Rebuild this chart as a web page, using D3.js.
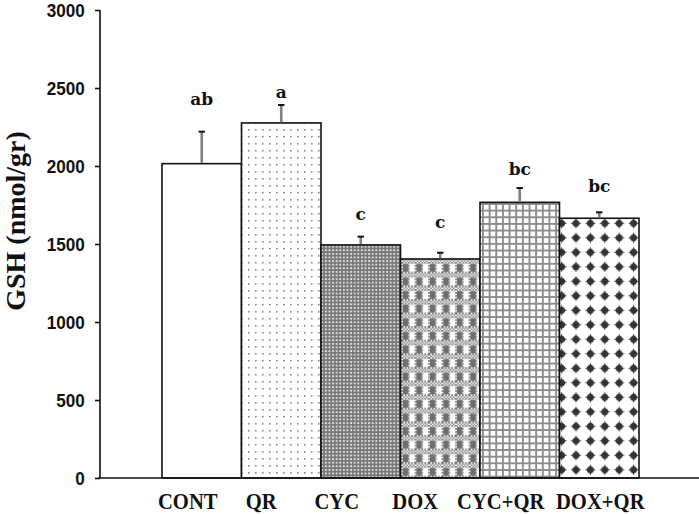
<!DOCTYPE html>
<html>
<head>
<meta charset="utf-8">
<script src="https://cdn.jsdelivr.net/npm/d3@7/dist/d3.min.js"></script>
<style>
  html, body { margin: 0; padding: 0; background: #fff; }
  svg { display: block; }
</style>
</head>
<body>
<svg id="chart" width="699" height="515"></svg>
<script>
// ---- data ----
const categories = ["CONT", "QR", "CYC", "DOX", "CYC+QR", "DOX+QR"];
const gshMean = [2015, 2276, 1494, 1404, 1767, 1665];
const gshError = [205, 115, 53, 40, 92, 38];
const groupLetters = ["ab", "a", "c", "c", "bc", "bc"];
const letterLevel = [2391, 2436, 1654, 1603, 1942, 1833]; // baseline of letters, in GSH units
const yTicks = [0, 500, 1000, 1500, 2000, 2500, 3000];
const yLabel = "GSH (nmol/gr)";

// ---- layout ----
const W = 699, H = 515;
const axisX = 100, plotBottom = 478, plotTop = 10;
const labelDx = [-14, -20, -24, -25, -19, 1]; // category label offsets from bar centre
const patternIds = ["none", "dots", "fineCheck", "plaid", "grid", "stars"];

const svg = d3.select("#chart");
const defs = svg.append("defs");

// patterns
(function () {
  let p = defs.append("pattern").attr("id", "dots").attr("patternUnits", "userSpaceOnUse")
    .attr("width", 7).attr("height", 7);
  p.append("rect").attr("width", 7).attr("height", 7).attr("fill", "#fff");
  p.append("rect").attr("x", 3).attr("y", 3).attr("width", 1.6).attr("height", 1.6).attr("fill", "#8a8a8a");

  p = defs.append("pattern").attr("id", "fineCheck").attr("patternUnits", "userSpaceOnUse")
    .attr("width", 3.6).attr("height", 3.6);
  p.append("rect").attr("width", 3.6).attr("height", 3.6).attr("fill", "#767676");
  p.append("rect").attr("x", 1).attr("y", 1).attr("width", 1.8).attr("height", 1.8).attr("fill", "#e8e8e8");

  const cb = defs.append("pattern").attr("id", "cb").attr("patternUnits", "userSpaceOnUse")
    .attr("width", 3).attr("height", 3);
  cb.append("rect").attr("width", 3).attr("height", 3).attr("fill", "#fff");
  cb.append("rect").attr("width", 1.5).attr("height", 1.5).attr("fill", "#7a7a7a");
  cb.append("rect").attr("x", 1.5).attr("y", 1.5).attr("width", 1.5).attr("height", 1.5).attr("fill", "#7a7a7a");

  p = defs.append("pattern").attr("id", "plaid").attr("patternUnits", "userSpaceOnUse")
    .attr("width", 13.5).attr("height", 13.6).attr("x", 402).attr("y", 259);
  p.append("rect").attr("width", 13.5).attr("height", 13.6).attr("fill", "url(#cb)");
  p.append("rect").attr("x", 1).attr("y", 5).attr("width", 5.3).attr("height", 7.8).attr("fill", "#6e6e6e");
  p.append("rect").attr("x", 7.6).attr("y", 5).attr("width", 5).attr("height", 7.8).attr("fill", "#fff");

  p = defs.append("pattern").attr("id", "grid").attr("patternUnits", "userSpaceOnUse")
    .attr("width", 6.65).attr("height", 6.65).attr("x", 482).attr("y", 203);
  p.append("rect").attr("width", 6.65).attr("height", 6.65).attr("fill", "#8c8c8c");
  p.append("rect").attr("x", 1.9).attr("y", 1.9).attr("width", 4.75).attr("height", 4.75).attr("fill", "#fff");

  p = defs.append("pattern").attr("id", "stars").attr("patternUnits", "userSpaceOnUse")
    .attr("width", 14.4).attr("height", 14.5).attr("x", 561.6 - 7.2).attr("y", 223.3 - 7.25);
  p.append("rect").attr("width", 14.4).attr("height", 14.5).attr("fill", "#fff");
  const cx = 7.2, cy = 7.25, r = 5.6, k = 2.2;
  p.append("path")
    .attr("d", `M${cx},${cy - r} Q${cx + k * 0.55},${cy - k * 0.55} ${cx + r},${cy}` +
      ` Q${cx + k * 0.55},${cy + k * 0.55} ${cx},${cy + r}` +
      ` Q${cx - k * 0.55},${cy + k * 0.55} ${cx - r},${cy}` +
      ` Q${cx - k * 0.55},${cy - k * 0.55} ${cx},${cy - r}Z`)
    .attr("fill", "#333");
  p.append("circle").attr("cx", cx).attr("cy", cy).attr("r", 3.4).attr("fill", "#333");
})();

// scales
const x = d3.scaleBand().domain(categories).range([162, 639]).padding(0);
const y = d3.scaleLinear().domain([0, 3000]).range([plotBottom, plotTop]);

const data = categories.map((c, i) => ({
  cat: c, mean: gshMean[i], err: gshError[i], letter: groupLetters[i],
  lev: letterLevel[i], pat: patternIds[i], dx: labelDx[i]
}));

// bars
svg.append("g").selectAll("rect").data(data).join("rect")
  .attr("x", d => x(d.cat))
  .attr("y", d => y(d.mean))
  .attr("width", x.bandwidth())
  .attr("height", d => y(0) - y(d.mean))
  .attr("fill", d => d.pat === "none" ? "#fff" : `url(#${d.pat})`)
  .attr("stroke", "#111")
  .attr("stroke-width", 1.6);

// error bars
const eg = svg.append("g");
eg.selectAll("line.stem").data(data).join("line").attr("class", "stem")
  .attr("x1", d => x(d.cat) + x.bandwidth() / 2)
  .attr("x2", d => x(d.cat) + x.bandwidth() / 2)
  .attr("y1", d => y(d.mean) - 0.8)
  .attr("y2", d => y(d.mean + d.err))
  .attr("stroke", "#7f7f7f").attr("stroke-width", 2.6);
eg.selectAll("line.cap").data(data).join("line").attr("class", "cap")
  .attr("x1", d => x(d.cat) + x.bandwidth() / 2 - 3.2)
  .attr("x2", d => x(d.cat) + x.bandwidth() / 2 + 3.2)
  .attr("y1", d => y(d.mean + d.err))
  .attr("y2", d => y(d.mean + d.err))
  .attr("stroke", "#111").attr("stroke-width", 2);

// group letters
svg.append("g").selectAll("text").data(data).join("text")
  .attr("x", d => x(d.cat) + x.bandwidth() / 2)
  .attr("y", d => y(d.lev))
  .attr("text-anchor", "middle")
  .attr("font-family", "'DejaVu Serif', serif")
  .attr("font-weight", "bold")
  .attr("font-size", 17)
  .attr("fill", "#111")
  .text(d => d.letter);

// y axis
const yAxis = svg.append("g").attr("transform", `translate(${axisX},0)`)
  .call(d3.axisLeft(y).tickValues(yTicks).tickFormat(d3.format("d")).tickSize(5).tickPadding(11));
yAxis.select(".domain").attr("d", `M0,${plotTop}V${plotBottom}`).attr("stroke", "#111").attr("stroke-width", 1.6);
yAxis.selectAll(".tick line").attr("stroke", "#111").attr("stroke-width", 1.6);
yAxis.selectAll(".tick text")
  .attr("font-family", "'Liberation Sans', Arial, sans-serif")
  .attr("font-weight", "bold").attr("font-size", 18).attr("fill", "#111")
  .attr("transform", "scale(0.95,1.05)");

// x axis line
svg.append("line").attr("x1", axisX - 2).attr("x2", W).attr("y1", y(0)).attr("y2", y(0))
  .attr("stroke", "#111").attr("stroke-width", 1.6);

// category labels (narrow, tall serif look)
svg.append("g").selectAll("text").data(data).join("text")
  .attr("transform", d => `translate(${x(d.cat) + x.bandwidth() / 2 + d.dx},509) scale(0.86,1)`)
  .attr("text-anchor", "middle")
  .attr("font-family", "'Liberation Serif', 'Times New Roman', serif")
  .attr("font-weight", "bold").attr("font-size", 24).attr("fill", "#111")
  .text(d => d.cat);

// y label
svg.append("text")
  .attr("transform", `translate(25,221) rotate(-90)`)
  .attr("text-anchor", "middle")
  .attr("font-family", "'Liberation Serif', 'Times New Roman', serif")
  .attr("font-weight", "bold").attr("font-size", 28).attr("fill", "#111")
  .text(yLabel);
</script>
</body>
</html>
